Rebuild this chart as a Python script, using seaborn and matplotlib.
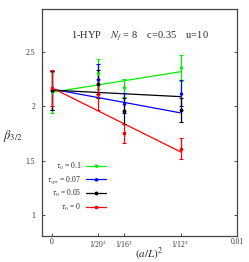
import numpy as np
import pandas as pd
import matplotlib
matplotlib.use("Agg")
import matplotlib.pyplot as plt
import seaborn as sns
from matplotlib.lines import Line2D

# ---- data ----
x_labels = ["0", "1/20$^2$", "1/16$^2$", "1/12$^2$", "0.01"]
x_ticks = [0.0, 1/20**2, 1/16**2, 1/12**2, 0.01]
x_pts = [0.0, 1/20**2, 1/16**2, 1/12**2]

series_names = [r"$\tau_0$ = 0.1", r"$\tau_{opt}$ = 0.07", r"$\tau_0$ = 0.05", r"$\tau_0$ = 0"]
series_colors = ["#00ee00", "#0000ff", "#000000", "#ff0000"]
series_markers = ["v", "^", "o", "s"]

green_y = [2.13, 2.30, 2.17, 2.35]
green_err = [0.19, 0.14, 0.08, 0.12]
blue_y = [2.15, 2.25, 2.03, 2.12]
blue_err = [0.18, 0.14, 0.09, 0.12]
black_y = [2.15, 2.21, 1.96, 1.97]
black_err = [0.18, 0.13, 0.12, 0.11]
red_y = [2.17, 2.11, 1.75, 1.61]
red_err = [0.17, 0.14, 0.09, 0.10]

fit_x = [0.0, 1/12**2]
green_fit = [2.13, 2.32]
blue_fit = [2.16, 1.94]
black_fit = [2.15, 2.09]
red_fit = [2.17, 1.58]

ys = [green_y, blue_y, black_y, red_y]
errs = [green_err, blue_err, black_err, red_err]
fits = [green_fit, blue_fit, black_fit, red_fit]

sns.set_theme(style="ticks")
plt.rcParams["font.family"] = ["Liberation Serif", "DejaVu Serif"]
plt.rcParams["mathtext.fontset"] = "stix"

fig = plt.figure(figsize=(2.49, 2.62), dpi=100)
ax = fig.add_axes([0.169, 0.098, 0.783, 0.868])

rows = []
for name, f in zip(series_names, fits):
    for xx, yy in zip(fit_x, f):
        rows.append({"x": xx, "y": yy, "series": name})
df_fit = pd.DataFrame(rows)

sns.lineplot(data=df_fit, x="x", y="y", hue="series", palette=dict(zip(series_names, series_colors)),
             hue_order=series_names, ax=ax, legend=False, linewidth=0.9, estimator=None, sort=False)

for name, c, m, y, e in zip(series_names, series_colors, series_markers, ys, errs):
    ax.errorbar(x_pts, y, yerr=e, fmt=m, color=c, ms=1.8, elinewidth=0.9, capsize=1.2,
                capthick=0.8, zorder=3)

ax.set_xlim(-0.000538, 0.01)
ax.set_ylim(0.8, 2.9)
ax.set_xticks(x_ticks)
ax.set_xticklabels(x_labels)
ax.set_yticks([1, 1.5, 2, 2.5])
ax.set_yticklabels(["1", "1.5", "2", "2.5"])
ax.tick_params(direction="in", length=2, width=0.6, labelsize=5.5, right=True, pad=5, colors="#333333")
ax.tick_params(axis="x", pad=1.5)
for s in ax.spines.values():
    s.set_linewidth(0.9)
    s.set_color("#444444")

ax.set_xlabel(r"$(a/L)^2$", fontsize=8)
ax.xaxis.set_label_coords(0.55, -0.077)
ax.xaxis.label.set_va("center")
ax.set_ylabel(r"$\beta_{3/2}$", fontsize=9, rotation=0)
ax.yaxis.set_label_coords(-0.15, 0.405)

ax.text(0.5, 0.88, r"1-HYP    $N_f$ = 8    c=0.35    u=10", transform=ax.transAxes,
        ha="center", va="center", fontsize=7.5)

handles = []
for c, m in zip(series_colors, series_markers):
    handles.append(Line2D([0], [0], color=c, marker=m, ms=1.8, lw=0.9))
leg = ax.legend(handles, series_names, loc="lower left", bbox_to_anchor=(0.0, 0.08),
                frameon=False, markerfirst=False, fontsize=5.5, handlelength=2.6,
                labelspacing=0.3, handletextpad=0.6, borderaxespad=0.3)
for t in leg.get_texts():
    t.set_ha("right")
leg._legend_box.align = "right"

fig.savefig("out.png", dpi=100)
